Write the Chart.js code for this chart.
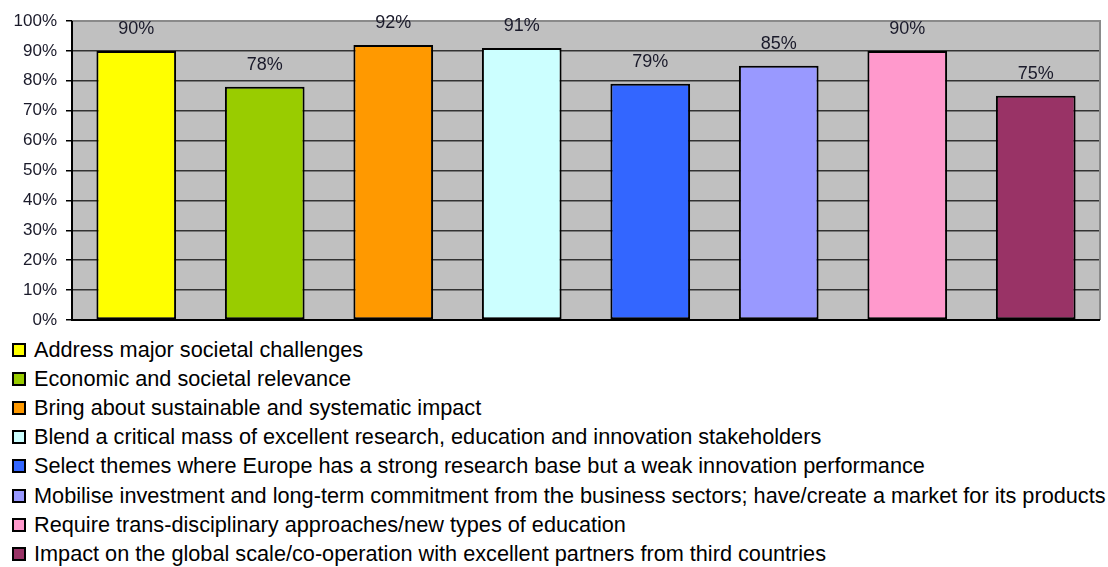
<!DOCTYPE html>
<html>
<head>
<meta charset="utf-8">
<script src="https://cdn.jsdelivr.net/npm/chart.js@4"></script>
<style>
  html, body { margin: 0; padding: 0; background: #fff; width: 1108px; height: 567px; overflow: hidden; }
  #wrap { position: absolute; left: 0; top: 0; width: 1108px; height: 330px; }
  #legend { position: absolute; left: 12px; top: 335px; font-family: "Liberation Sans", Arial, sans-serif; font-size: 21.7px; color: #000; }
  .item { height: 29.2px; display: flex; align-items: center; white-space: nowrap; }
  .box { width: 10px; height: 10px; border: 2px solid #000; margin-right: 8px; flex: none; }
</style>
</head>
<body>
<div id="wrap"><canvas id="c" width="1108" height="330"></canvas></div>
<div id="legend"></div>
<script>
const categories = [
  "Address major societal challenges",
  "Economic and societal relevance",
  "Bring about sustainable and systematic impact",
  "Blend a critical mass of excellent research, education and innovation stakeholders",
  "Select themes where Europe has a strong research base but a weak innovation performance",
  "Mobilise investment and long-term commitment from the business sectors; have/create a market for its products",
  "Require trans-disciplinary approaches/new types of education",
  "Impact on the global scale/co-operation with excellent partners from third countries"
];
const values = [90, 78, 92, 91, 79, 85, 90, 75];
const colors = ["#ffff00", "#99cc00", "#ff9900", "#ccffff", "#3366ff", "#9999ff", "#ff99cc", "#993366"];

const legend = document.getElementById('legend');
categories.forEach((c, i) => {
  const d = document.createElement('div'); d.className = 'item';
  const b = document.createElement('span'); b.className = 'box'; b.style.background = colors[i];
  const t = document.createElement('span'); t.textContent = c;
  d.appendChild(b); d.appendChild(t); legend.appendChild(d);
});

const bgPlugin = {
  id: 'bg',
  beforeDraw(chart) {
    const a = chart.chartArea, ctx = chart.ctx;
    ctx.save(); ctx.fillStyle = '#c0c0c0';
    ctx.fillRect(a.left, a.top, a.right - a.left, a.bottom - a.top);
    ctx.restore();
  },
  afterDatasetsDraw(chart) {
    const a = chart.chartArea, ctx = chart.ctx;
    ctx.save();
    ctx.strokeStyle = '#8a8a8a'; ctx.lineWidth = 2;
    ctx.beginPath();
    ctx.moveTo(a.left, a.top); ctx.lineTo(a.right, a.top); ctx.lineTo(a.right, a.bottom);
    ctx.stroke();
    ctx.strokeStyle = '#000'; ctx.lineWidth = 2;
    ctx.beginPath(); ctx.moveTo(a.left, a.top); ctx.lineTo(a.left, a.bottom); ctx.lineTo(a.right, a.bottom); ctx.stroke();
    const meta = chart.getDatasetMeta(0);
    ctx.fillStyle = '#1a1a2a';
    ctx.font = '18px "Liberation Sans", Arial, sans-serif';
    ctx.textAlign = 'center'; ctx.textBaseline = 'middle';
    meta.data.forEach((el, i) => {
      ctx.fillText(values[i] + '%', el.x, el.y - 22);
    });
    ctx.restore();
  }
};

new Chart(document.getElementById('c'), {
  type: 'bar',
  data: {
    labels: categories,
    datasets: [{
      data: values,
      backgroundColor: colors,
      borderColor: '#000',
      borderWidth: 2,
      borderSkipped: false,
      barPercentage: 0.62,
      categoryPercentage: 1.0
    }]
  },
  options: {
    responsive: false,
    animation: false,
    layout: { padding: { left: 0, right: 8, top: 21, bottom: 10 } },
    plugins: { legend: { display: false }, tooltip: { enabled: false } },
    scales: {
      x: {
        ticks: { display: false },
        grid: { display: false, drawTicks: false },
        border: { display: false },
        afterFit(s) { s.height = 0; s.paddingLeft = 0; s.paddingRight = 0; }
      },
      y: {
        min: 0, max: 100,
        ticks: {
          stepSize: 10,
          color: '#1a1a2a',
          font: { family: '"Liberation Sans", Arial, sans-serif', size: 17 },
          padding: 9,
          callback: v => v + '%'
        },
        grid: { color: '#333', lineWidth: 1.5, tickLength: 6, tickColor: '#000' },
        border: { display: false },
        afterFit(s) { s.width = 72; s.paddingTop = 0; s.paddingBottom = 0; }
      }
    }
  },
  plugins: [bgPlugin]
});
</script>
</body>
</html>
